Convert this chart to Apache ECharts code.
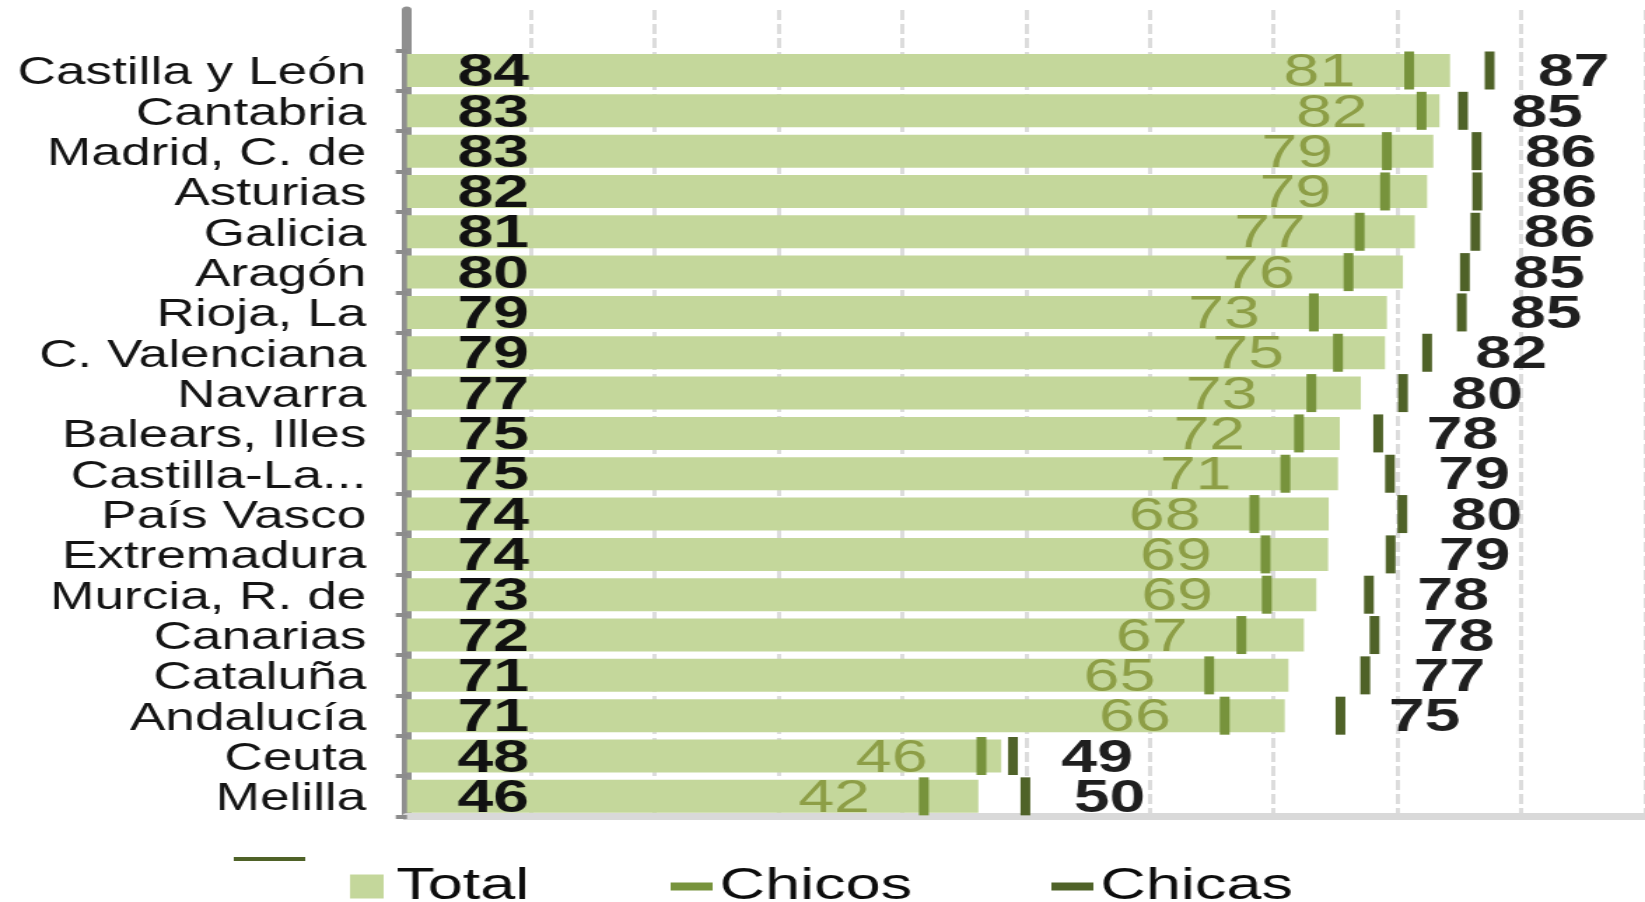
<!DOCTYPE html>
<html>
<head>
<meta charset="utf-8">
<script src="https://cdn.jsdelivr.net/npm/echarts/dist/echarts.min.js"></script>
<style>
html,body{margin:0;padding:0;background:#fff;overflow:hidden;}
/* el gráfico original está estirado en horizontal */
#main{width:1175px;height:902px;transform:scaleX(1.4);transform-origin:0 0;}
</style>
</head>
<body>
<div id="main"></div>
<script>
var categories = ['Castilla y León','Cantabria','Madrid, C. de','Asturias','Galicia','Aragón','Rioja, La','C. Valenciana','Navarra','Balears, Illes','Castilla-La Mancha','País Vasco','Extremadura','Murcia, R. de','Canarias','Cataluña','Andalucía','Ceuta','Melilla'];
var total  = [84.25,83.4,82.9,82.4,81.4,80.45,79.15,79.0,77.05,75.35,75.2,74.45,74.4,73.45,72.45,71.2,70.9,48.0,46.15];
var chicos = [80.95,81.95,79.15,79.0,76.95,76.05,73.25,75.2,73.05,72.05,70.95,68.45,69.35,69.45,67.4,64.8,66.05,46.4,41.75];
var chicas = [87.45,85.3,86.4,86.45,86.3,85.45,85.2,82.4,80.45,78.45,79.4,80.4,79.45,77.7,78.15,77.4,75.4,48.95,49.95];
var seriesNames = ['Total','Chicos','Chicas'];

window.onload=function(){

    var myChart=echarts.init(document.getElementById('main'));

    // fila vacía arriba (como en el original)
    var rows=[''].concat(categories);

    var toPoints=function(arr){
        return arr.map(function(v,i){ return [v,categories[i]]; });
    };
    var rounded=function(p){
        var v=Array.isArray(p.value)?p.value[0]:p.value;
        return Math.round(v);
    };

    var option={
        animation:false,
        textStyle:{fontFamily:'"Liberation Sans", Arial, sans-serif'},
        grid:{left:290.7,right:0,top:10,bottom:85.5,outerBoundsMode:'none'},
        xAxis:{
            type:'value',
            min:0,
            max:100,
            interval:10,
            axisLabel:{show:false},
            axisTick:{show:false},
            axisLine:{show:true,lineStyle:{color:'#d9d9d9',width:7}},
            splitLine:{show:true,lineStyle:{color:'#dcdcdc',width:3,type:[10,4]}}
        },
        yAxis:{
            type:'category',
            inverse:true,
            data:rows,
            offset:4,
            axisLine:{show:true,lineStyle:{color:'#8f8f8f',width:7}},
            axisTick:{show:true,length:8,interval:function(i){return i!==0;},lineStyle:{color:'#8c8c8c',width:4}},
            axisLabel:{
                interval:0,
                fontSize:38,
                color:'#141414',
                margin:25,
                // nombre largo cortado como en el original
                formatter:function(v){
                    if(!v) return '';
                    return '{n|' + (v.length>16 ? v.slice(0,11)+'...' : v) + '}';
                },
                rich:{n:{fontSize:38,color:'#141414',padding:[7,0,0,0]}}
            },
            splitLine:{show:false}
        },
        legend:[
            {data:[seriesNames[0]],left:250,top:864,padding:0,selectedMode:false,icon:'rect',itemWidth:24,itemHeight:24,
             textStyle:{fontSize:45,color:'#0d0d0d',padding:[7,0,0,4]}},
            {data:[seriesNames[1]],left:479,top:864,padding:0,selectedMode:false,icon:'rect',itemWidth:30,itemHeight:8,
             textStyle:{fontSize:45,color:'#0d0d0d',padding:[7,0,0,0]}},
            {data:[seriesNames[2]],left:751,top:864,padding:0,selectedMode:false,icon:'rect',itemWidth:30,itemHeight:8,
             textStyle:{fontSize:45,color:'#0d0d0d',padding:[7,0,0,0]}}
        ],
        graphic:[{
            type:'line',
            shape:{x1:167,y1:859,x2:218,y2:859},
            style:{stroke:'#4f6228',lineWidth:4}
        }],
        series:[
            {
                name:seriesNames[0],
                type:'bar',
                data:['-'].concat(total),
                barWidth:33,
                itemStyle:{color:'#c4d79b'},
                label:{
                    show:true,
                    position:[36,'50%'],
                    offset:[0,3],
                    align:'left',
                    verticalAlign:'middle',
                    fontSize:46,
                    fontWeight:'bold',
                    color:'#111111',
                    formatter:rounded
                }
            },
            {
                name:seriesNames[1],
                type:'scatter',
                data:toPoints(chicos),
                symbol:'rect',
                symbolSize:[7,38],
                itemStyle:{color:'#77933c',opacity:1},
                label:{
                    show:true,
                    position:'left',
                    distance:35,
                    offset:[0,3],
                    fontSize:46,
                    color:'#8d9e46',
                    formatter:rounded
                }
            },
            {
                name:seriesNames[2],
                type:'scatter',
                data:toPoints(chicas),
                symbol:'rect',
                symbolSize:[7,38],
                itemStyle:{color:'#4f6228',opacity:1},
                label:{
                    show:true,
                    position:'right',
                    distance:31,
                    offset:[0,3],
                    fontSize:46,
                    fontWeight:'bold',
                    color:'#1f1f1f',
                    formatter:rounded
                }
            }
        ]
    };

    myChart.setOption(option);
};
</script>
</body>
</html>
